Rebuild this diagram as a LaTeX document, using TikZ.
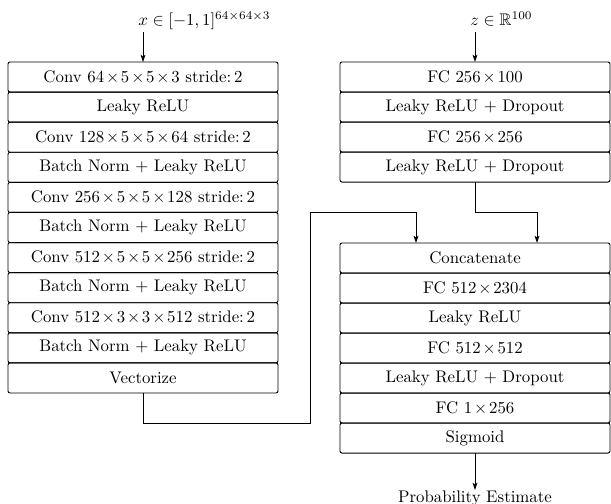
\documentclass[tikz,border=0pt]{standalone}
\usepackage{amsmath,amssymb}
\usetikzlibrary{calc,arrows.meta}
\newcommand{\X}{\mkern2mu{\times}\mkern2mu}
\begin{document}
\begin{tikzpicture}[x=0.595pt,y=-0.595pt,
  layer/.style={draw,rounded corners=1.2pt,minimum width=160.65pt,minimum height=17.9pt,inner sep=0pt,outer sep=0pt,line width=0.55pt},
  conn/.style={line width=0.55pt},
  arr/.style={conn,-{Stealth[length=4.3pt,width=2.9pt,inset=1pt]}},
  lab/.style={inner sep=0pt}]
\useasboundingbox (0,0) rectangle (611,503);
% left column
\def\lh{30.09}
\foreach \n/\t [count=\i from 0] in {
  l1/{Conv $64\X5\X5\X3$ stride:\,2},
  l2/{Leaky ReLU},
  l3/{Conv $128\X5\X5\X64$ stride:\,2},
  l4/{Batch Norm $+$ Leaky ReLU},
  l5/{Conv $256\X5\X5\X128$ stride:\,2},
  l6/{Batch Norm $+$ Leaky ReLU},
  l7/{Conv $512\X5\X5\X256$ stride:\,2},
  l8/{Batch Norm $+$ Leaky ReLU},
  l9/{Conv $512\X3\X3\X512$ stride:\,2},
  l10/{Batch Norm $+$ Leaky ReLU},
  l11/{Vectorize}}
  \node[layer] (\n) at (143,{62+\lh*(\i+0.5)}) {\t};
% right top column
\foreach \n/\t [count=\i from 0] in {
  z1/{FC $256\X100$},
  z2/{Leaky ReLU $+$ Dropout},
  z3/{FC $256\X256$},
  z4/{Leaky ReLU $+$ Dropout}}
  \node[layer] (\n) at (475,{62+30*(\i+0.5)}) {\t};
% right bottom column
\foreach \n/\t [count=\i from 0] in {
  d1/{Concatenate},
  d2/{FC $512\X2304$},
  d3/{Leaky ReLU},
  d4/{FC $512\X512$},
  d5/{Leaky ReLU $+$ Dropout},
  d6/{FC $1\X256$},
  d7/{Sigmoid}}
  \node[layer] (\n) at (475,{243+30*(\i+0.5)}) {\t};
% labels
\node[lab,anchor=west] (xin) at (138,21) {$x\in[-1,1]^{64\times64\times3}$};
\node[lab,anchor=west] (zin) at (470,19) {$z\in\mathbb{R}^{100}$};
\node[lab,anchor=north] (out) at (475,490) {Probability Estimate};
\coordinate (xs) at (143,32);
\coordinate (zs) at (475,32);
\draw[arr] (xs) -- (l1.north);
\draw[arr] (zs) -- (z1.north);
\draw[arr] (d7.south) -- (out.north);
\coordinate (jl) at (310,212);
\draw[arr] (l11.south) -- ++(0,30) -| (jl) -| ($(d1.north)+(-59,0)$);
\draw[arr] (z4.south) -- ++(0,30) -| ($(d1.north)+(62,0)$);
\end{tikzpicture}
\end{document}
